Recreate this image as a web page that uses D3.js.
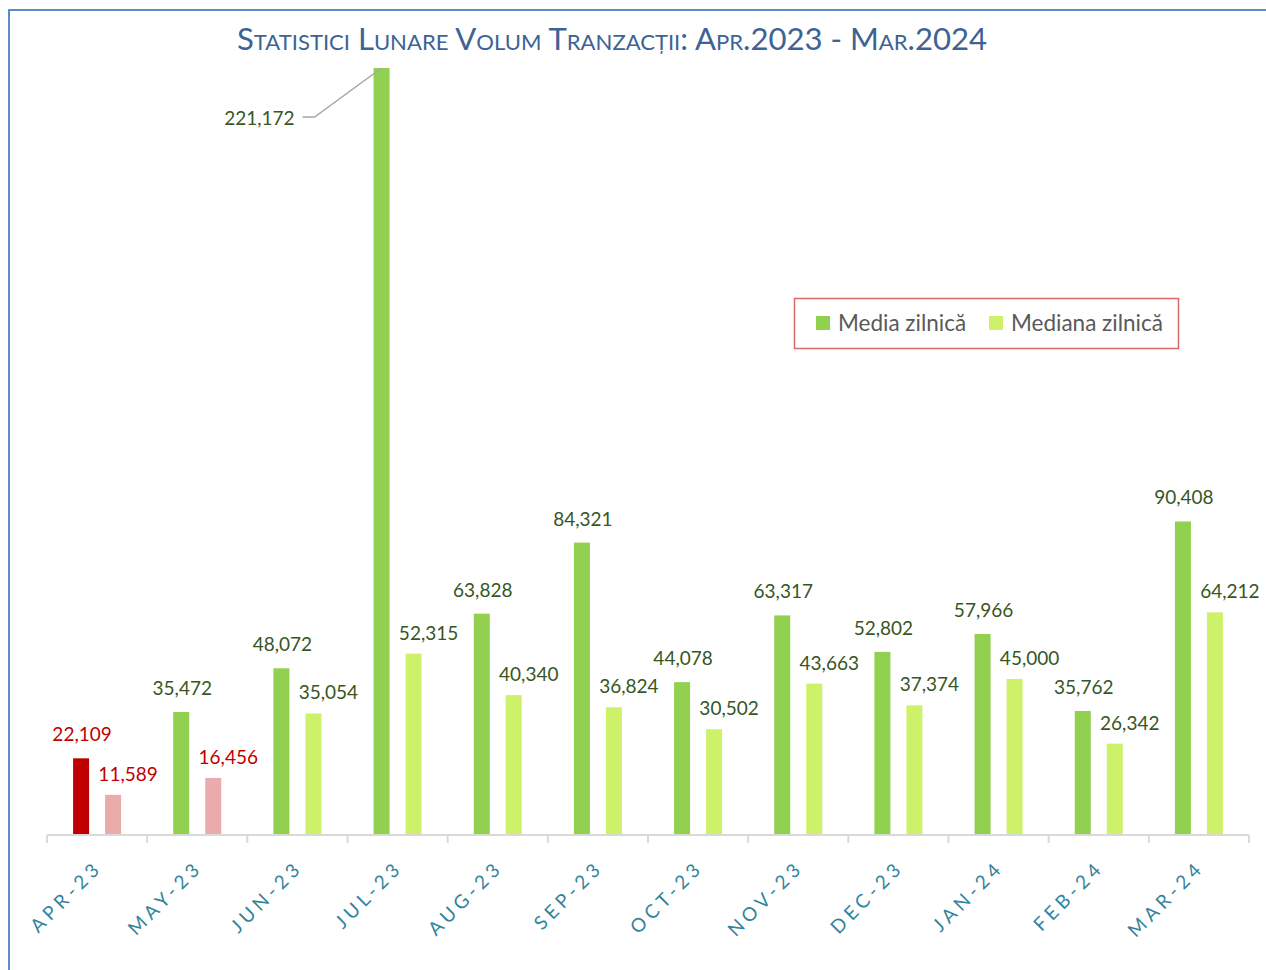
<!DOCTYPE html>
<html>
<head>
<meta charset="utf-8">
<script src="https://cdn.jsdelivr.net/npm/d3@7"></script>
<style>
  body { margin: 0; background: #fff; }
  svg { display: block; }
</style>
</head>
<body>
<script>
var width = 1266,
  height = 970;

// data
var months = ["APR-23", "MAY-23", "JUN-23", "JUL-23", "AUG-23", "SEP-23",
  "OCT-23", "NOV-23", "DEC-23", "JAN-24", "FEB-24", "MAR-24"];
var media = [22109, 35472, 48072, 221172, 63828, 84321, 44078, 63317, 52802, 57966, 35762, 90408];
var mediana = [11589, 16456, 35054, 52315, 40340, 36824, 30502, 43663, 37374, 45000, 26342, 64212];
var seriesNames = ["Media zilnică", "Mediana zilnică"];
// months flagged in red (below threshold)
var lowMedia = ["APR-23"];
var lowMediana = ["APR-23", "MAY-23"];

var svg = d3.select("body").append("svg")
  .attr("width", width)
  .attr("height", height);

// frame lines (left + top)
svg.append("path")
  .attr("d", "M9,970 V10 H1266")
  .attr("fill", "none")
  .attr("stroke", "#5b8bcc")
  .attr("stroke-width", 2);

svg.append("text")
  .attr("x", 612)
  .attr("y", 50)
  .attr("text-anchor", "middle")
  .attr("font-family", "Lato, sans-serif")
  .attr("font-size", 31)
  .style("font-variant", "small-caps")
  .attr("fill", "#3d6394")
  .attr("textLength", 750)
  .attr("lengthAdjust", "spacingAndGlyphs")
  .text("Statistici Lunare Volum Tranzacții: Apr.2023 - Mar.2024");

var x = d3.scaleBand()
  .domain(months)
  .range([47, 1249]);

var xs = d3.scalePoint()
  .domain(["media", "mediana"])
  .range([-16, 16]);

var y = d3.scaleLinear()
  .domain([0, 221172])
  .range([835, 68]);

var barW = 16;

var rows = months.map(function(m, i) {
  return {month: m, media: media[i], mediana: mediana[i]};
});

// bars
var g = svg.append("g");
g.selectAll(".b-media")
  .data(rows)
  .enter().append("rect")
  .attr("class", "b-media")
  .attr("x", d => x(d.month) + x.bandwidth() / 2 + xs("media") - barW / 2)
  .attr("width", barW)
  .attr("y", d => y(d.media))
  .attr("height", d => y(0) - y(d.media))
  .attr("fill", d => lowMedia.includes(d.month) ? "#c00000" : "#92d050");

g.selectAll(".b-mediana")
  .data(rows)
  .enter().append("rect")
  .attr("class", "b-mediana")
  .attr("x", d => x(d.month) + x.bandwidth() / 2 + xs("mediana") - barW / 2)
  .attr("width", barW)
  .attr("y", d => y(d.mediana))
  .attr("height", d => y(0) - y(d.mediana))
  .attr("fill", d => lowMediana.includes(d.month) ? "#ebabab" : "#cdf26a");

// axis
var axis = svg.append("g")
  .attr("transform", "translate(0," + y(0) + ")")
  .call(d3.axisBottom(x).tickSize(0).tickPadding(12));
axis.select(".domain").attr("stroke", "#d9d9d9").attr("stroke-width", 2)
  .attr("d", "M" + x.range()[0] + ",0H" + x.range()[1]);
axis.selectAll(".tick text")
  .attr("font-family", "Lato, sans-serif")
  .attr("font-size", 19)
  .attr("fill", "#31849b")
  .attr("letter-spacing", 4.5)
  .attr("text-anchor", "end")
  .attr("dy", 0)
  .attr("transform", "translate(-2,25) rotate(-45)");

var bounds = months.map(m => x(m)).concat([x.range()[1]]);
axis.selectAll(".bound")
  .data(bounds)
  .enter().append("line")
  .attr("class", "bound")
  .attr("x1", d => d).attr("x2", d => d)
  .attr("y1", 0).attr("y2", 8)
  .attr("stroke", "#d9d9d9")
  .attr("stroke-width", 2);

// value labels
var fmt = d3.format(",");
var labelFont = "Lato, sans-serif";

g.selectAll(".l-media")
  .data(rows.filter(d => d.media < 200000))
  .enter().append("text")
  .attr("class", "l-media")
  .attr("x", d => x(d.month) + x.bandwidth() / 2 + xs("media") + 1)
  .attr("y", d => y(d.media) - 17)
  .attr("text-anchor", "middle")
  .attr("font-family", labelFont)
  .attr("font-size", 19)
  .attr("fill", d => lowMedia.includes(d.month) ? "#c00000" : "#375623")
  .text(d => fmt(d.media));

g.selectAll(".l-mediana")
  .data(rows)
  .enter().append("text")
  .attr("class", "l-mediana")
  .attr("x", d => x(d.month) + x.bandwidth() / 2 + xs("mediana") + 15)
  .attr("y", d => y(d.mediana) - 14)
  .attr("text-anchor", "middle")
  .attr("font-family", labelFont)
  .attr("font-size", 19)
  .attr("fill", d => lowMediana.includes(d.month) ? "#c00000" : "#375623")
  .text(d => fmt(d.mediana));

// callout for the tall bar
var big = rows.filter(d => d.media >= 200000);
big.forEach(function(d) {
  var bx = x(d.month) + x.bandwidth() / 2 + xs("media");
  var lx = bx - 87, ly = 125;
  g.append("path")
    .attr("d", "M" + (lx + 8) + "," + (ly - 8) + "H" + (lx + 20) + "L" + bx + "," + y(d.media))
    .attr("fill", "none")
    .attr("stroke", "#a6a6a6")
    .attr("stroke-width", 1.5);
  g.append("text")
    .attr("x", lx)
    .attr("y", ly)
    .attr("text-anchor", "end")
    .attr("font-family", labelFont)
    .attr("font-size", 19)
    .attr("fill", "#375623")
    .text(fmt(d.media));
});

// legend
var legend = svg.append("g");
legend.append("rect")
  .attr("x", 794.5).attr("y", 298.5)
  .attr("width", 384).attr("height", 50)
  .attr("fill", "#fff")
  .attr("stroke", "#d9696b")
  .attr("stroke-width", 1.5);
var legendX = [816, 989];
var legendColors = ["#92d050", "#cdf26a"];
seriesNames.forEach(function(name, i) {
  legend.append("rect")
    .attr("x", legendX[i]).attr("y", 316)
    .attr("width", 14).attr("height", 14)
    .attr("fill", legendColors[i]);
  legend.append("text")
    .attr("x", legendX[i] + 22).attr("y", 331)
    .attr("font-family", labelFont)
    .attr("font-size", 22.5)
    .attr("fill", "#595959")
    .text(name);
});
</script>
</body>
</html>
